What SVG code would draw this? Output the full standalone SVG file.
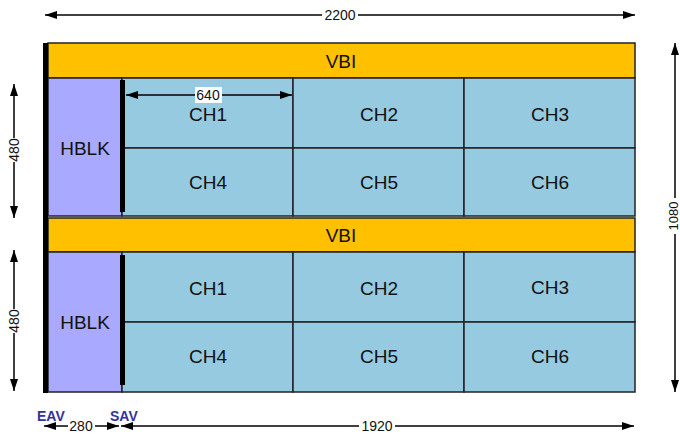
<svg xmlns="http://www.w3.org/2000/svg" width="680" height="436" viewBox="0 0 680 436">
<style>
.vbi{fill:#FFC000;stroke:#222;stroke-width:1.5}
.hblk{fill:#A9A9FF;stroke:#222;stroke-width:1.5}
.ch{fill:#96CAE0;stroke:#222;stroke-width:1.5}
.bar{fill:#000}
.t{font-family:"Liberation Sans",Arial,sans-serif;font-size:19px;fill:#111;text-anchor:middle;dominant-baseline:central}
.d{font-family:"Liberation Sans",Arial,sans-serif;font-size:14px;fill:#111;text-anchor:middle;dominant-baseline:central}
.sv{font-family:"Liberation Sans",Arial,sans-serif;font-size:14px;font-weight:bold;fill:#333399}
.dim{stroke:#000;stroke-width:1.5;fill:none}
.bg{fill:#fff}
</style>
<defs>
<marker id="ah" viewBox="0 0 12 8" refX="12" refY="4" markerWidth="12" markerHeight="8" markerUnits="userSpaceOnUse" orient="auto-start-reverse">
<path d="M0,0 L12,4 L0,8 z" fill="#000"/>
</marker>
</defs>

<g id="vbi1"><rect class="vbi" x="48" y="43" width="587" height="35"/><text class="t" x="341" y="61">VBI</text></g>
<g id="hblk1"><rect class="hblk" x="48" y="78" width="74" height="138"/><text class="t" x="85" y="148">HBLK</text></g>
<g id="ch1a"><rect class="ch" x="122" y="78" width="171" height="70"/><text class="t" x="208" y="114">CH1</text></g>
<g id="ch2a"><rect class="ch" x="293" y="78" width="171" height="70"/><text class="t" x="379" y="114">CH2</text></g>
<g id="ch3a"><rect class="ch" x="464" y="78" width="171" height="70"/><text class="t" x="550" y="114">CH3</text></g>
<g id="ch4a"><rect class="ch" x="122" y="148" width="171" height="68"/><text class="t" x="208" y="182">CH4</text></g>
<g id="ch5a"><rect class="ch" x="293" y="148" width="171" height="68"/><text class="t" x="379" y="182">CH5</text></g>
<g id="ch6a"><rect class="ch" x="464" y="148" width="171" height="68"/><text class="t" x="550" y="182">CH6</text></g>

<g id="vbi2"><rect class="vbi" x="48" y="218" width="587" height="34"/><text class="t" x="341" y="235">VBI</text></g>
<g id="hblk2"><rect class="hblk" x="48" y="252" width="74" height="140"/><text class="t" x="85" y="322">HBLK</text></g>
<g id="ch1b"><rect class="ch" x="122" y="252" width="171" height="70"/><text class="t" x="208" y="288">CH1</text></g>
<g id="ch2b"><rect class="ch" x="293" y="252" width="171" height="70"/><text class="t" x="379" y="288">CH2</text></g>
<g id="ch3b"><rect class="ch" x="464" y="252" width="171" height="70"/><text class="t" x="550" y="287">CH3</text></g>
<g id="ch4b"><rect class="ch" x="122" y="322" width="171" height="70"/><text class="t" x="208" y="356">CH4</text></g>
<g id="ch5b"><rect class="ch" x="293" y="322" width="171" height="70"/><text class="t" x="379" y="356">CH5</text></g>
<g id="ch6b"><rect class="ch" x="464" y="322" width="171" height="70"/><text class="t" x="550" y="356">CH6</text></g>

<g id="bars">
<rect class="bar" x="43" y="43" width="5" height="350"/>
<rect class="bar" x="120" y="80" width="5" height="132"/>
<rect class="bar" x="120" y="255" width="5" height="130"/>
</g>

<g id="connectors">
<line class="dim" x1="45" y1="15" x2="635" y2="15" marker-start="url(#ah)" marker-end="url(#ah)"/>
<rect class="bg" x="322" y="7" width="36" height="16"/>
<text class="d" x="340" y="15">2200</text>

<line class="dim" x1="675" y1="43" x2="675" y2="392" marker-start="url(#ah)" marker-end="url(#ah)"/>
<rect class="bg" x="667" y="198" width="13" height="36"/>
<text class="d" style="font-size:13px" transform="translate(673,216) rotate(-90)" x="0" y="0">1080</text>

<line class="dim" x1="14" y1="84" x2="14" y2="218" marker-start="url(#ah)" marker-end="url(#ah)"/>
<rect class="bg" x="6" y="138" width="16" height="24"/>
<text class="d" transform="translate(14,150) rotate(-90)" x="0" y="0">480</text>

<line class="dim" x1="14" y1="250" x2="14" y2="391" marker-start="url(#ah)" marker-end="url(#ah)"/>
<rect class="bg" x="6" y="309" width="16" height="24"/>
<text class="d" transform="translate(14,321) rotate(-90)" x="0" y="0">480</text>

<line class="dim" x1="126" y1="95" x2="292" y2="95" marker-start="url(#ah)" marker-end="url(#ah)"/>
<rect class="bg" x="195" y="87" width="27" height="16"/>
<text class="d" x="208" y="95">640</text>

<line class="dim" x1="44" y1="426" x2="119" y2="426" marker-start="url(#ah)" marker-end="url(#ah)"/>
<rect class="bg" x="68" y="418" width="27" height="16"/>
<text class="d" x="81" y="426">280</text>

<line class="dim" x1="121" y1="426" x2="634" y2="426" marker-start="url(#ah)" marker-end="url(#ah)"/>
<rect class="bg" x="359" y="418" width="36" height="16"/>
<text class="d" x="377" y="426">1920</text>

<text class="sv" x="37" y="421">EAV</text>
<text class="sv" x="110" y="421">SAV</text>
</g>
</svg>
